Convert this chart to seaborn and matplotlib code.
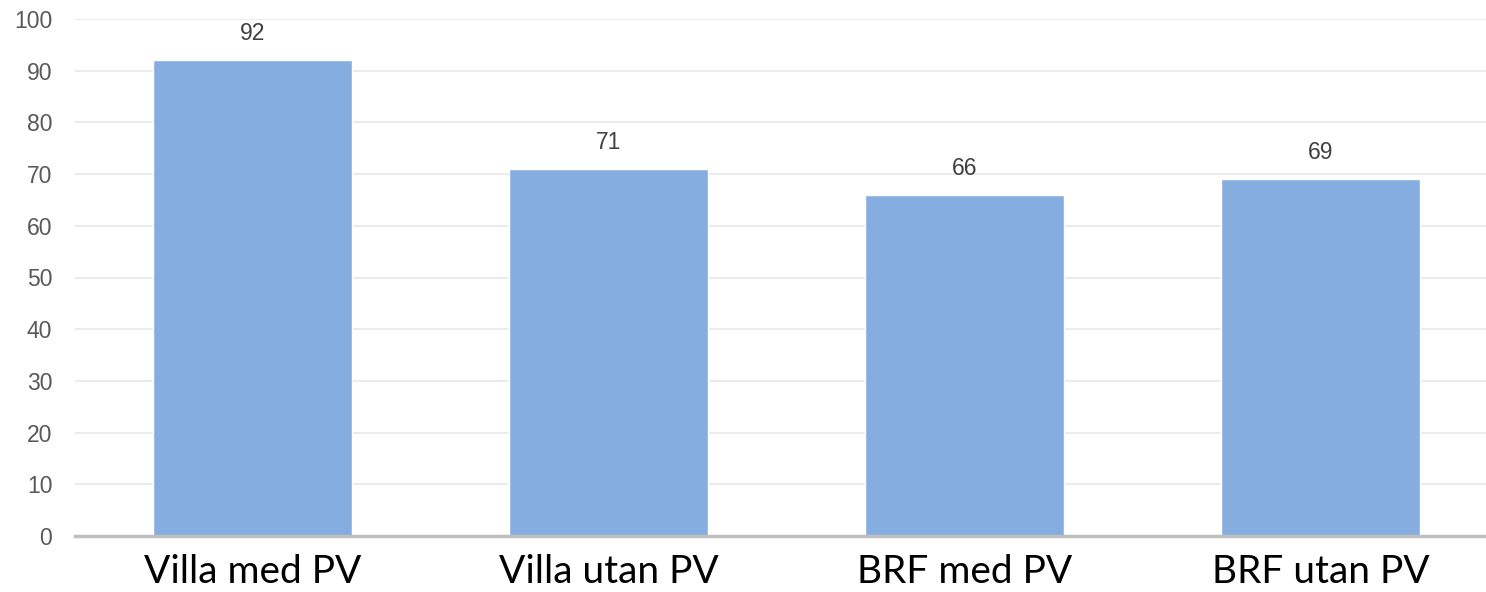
import matplotlib
matplotlib.use("Agg")
import matplotlib.pyplot as plt
import seaborn as sns
import pandas as pd

categories = ["Villa med PV", "Villa utan PV", "BRF med PV", "BRF utan PV"]
values = [92, 71, 66, 69]
yticks = [0, 10, 20, 30, 40, 50, 60, 70, 80, 90, 100]

sns.set_theme(style="white")
plt.rcParams['font.family'] = ['Liberation Sans', 'DejaVu Sans']

df = pd.DataFrame({"cat": categories, "val": values})

fig = plt.figure(figsize=(14.86, 5.92), dpi=100)
ax = fig.add_axes([74.5/1486, 56/592, 1424/1486, 517/592])

sns.barplot(data=df, x="cat", y="val", color="#86ADE0", saturation=1, width=0.558, ax=ax)

ax.set_xlim(-0.5, 3.5)
ax.set_ylim(0, 100)
ax.set_yticks(yticks)
ax.set_yticklabels([str(t) for t in yticks], fontsize=16.5, color="#595959")
ax.tick_params(axis="y", length=0, pad=16)
ax.tick_params(axis="x", length=0, pad=13)
for lbl in ax.get_xticklabels():
    lbl.set_fontfamily(["Lato", "DejaVu Sans"])
    lbl.set_fontsize(28)
    lbl.set_color("#000000")
ax.set_xlabel("")
ax.set_ylabel("")
ax.grid(axis="y", color="#EBEBEB", linewidth=1.5)
ax.set_axisbelow(True)
for s in ["top", "right", "left"]:
    ax.spines[s].set_visible(False)
ax.spines["bottom"].set_color("#BFBFBF")
ax.spines["bottom"].set_linewidth(2.5)

for i, v in enumerate(values):
    ax.annotate(str(v), (i, v), xytext=(0, 11), textcoords="offset points",
                ha="center", va="bottom", fontsize=16.5, color="#404040")

fig.savefig("out.png", dpi=100)
